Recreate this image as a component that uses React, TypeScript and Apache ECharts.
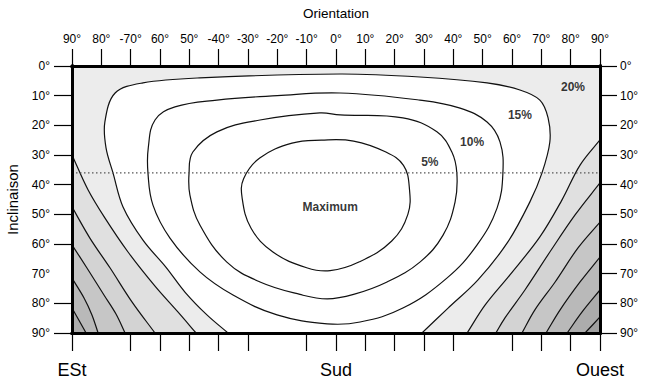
import React, { useEffect, useRef } from "react";
import * as echarts from "echarts";

type Pt = [number, number];

// ---- axis data ----
const orientationTicks = [-90, -80, -70, -60, -50, -40, -30, -20, -10, 0, 10, 20, 30, 40, 50, 60, 70, 80, 90];
const orientationLabels = ["90°", "80°", "-70°", "60°", "50°", "-40°", "-30°", "-20°", "-10°", "0°", "10°", "20°", "30°", "40°", "50°", "60°", "70°", "80°", "90°"];
const bottomTickValues = [-90, -70, -60, -50, -40, -30, -10, 0, 10, 20, 30, 40, 60, 70, 80, 90];
const directionValues = [-90, 0, 90];
const directionLabels = ["ESt", "Sud", "Ouest"];
const inclinationTicks = [0, 10, 20, 30, 40, 50, 60, 70, 80, 90];
const inclinationLabels = ["0°", "10°", "20°", "30°", "40°", "50°", "60°", "70°", "80°", "90°"];
const leftTickValues = [0, 10, 20, 30, 40, 50, 60, 80, 90];
const referenceInclination = 36;

// ---- contour lines (orientation °, inclination °) ----
const contour5: Pt[] = [[-5, 25], [6, 25.3], [17, 29], [23, 33.5], [25, 41], [24.5, 50], [19, 59], [8, 66], [-2, 69], [-10, 68], [-21.5, 62.7], [-29, 54.6], [-32, 44.5], [-31.5, 38], [-26, 31], [-15, 26]];
const contour10: Pt[] = [[-5.5, 15.8], [1.4, 16.5], [22.8, 17.5], [34.4, 22.2], [39.5, 29], [41.2, 36.1], [40.6, 45.8], [36.5, 57], [28.6, 66.1], [17.4, 72.8], [6, 77], [-3, 78.5], [-12.3, 77], [-25.9, 72.8], [-37.2, 66.1], [-46.4, 53.6], [-49.8, 43.5], [-50.1, 36.1], [-48.8, 29], [-40.6, 22.2], [-25.9, 18.2]];
const contour15: Pt[] = [[1.4, 9.1], [28.6, 11.5], [42.3, 14.2], [51.5, 18.9], [55.9, 25.6], [56.9, 36.1], [54.9, 47.9], [48.1, 60.3], [37.8, 71.5], [22.8, 81.6], [8.2, 86.3], [-3, 86.9], [-20.1, 83.9], [-35.1, 77.2], [-46.4, 69.4], [-56.6, 58], [-62.4, 46.9], [-64.1, 36.1], [-64, 27.6], [-61.7, 18.2], [-54.9, 13.8], [-40.6, 11.5], [-20, 10]];
const contour20: Pt[] = [[-36.8, 90], [-44, 83.9], [-51.5, 76.2], [-58, 67.8], [-65.8, 58.7], [-72.6, 47.5], [-76, 36.1], [-78.4, 27.6], [-78.8, 18.9], [-75.3, 9.1], [-65.8, 5.7], [-46.4, 4], [1.4, 2.7], [28.6, 3.7], [51.5, 5.7], [62.7, 8.1], [69.5, 11.5], [72.3, 17.5], [72.9, 25.6], [70.2, 36.1], [66.1, 45.8], [58.6, 59.3], [48.4, 72.1], [38.2, 81.6], [29.3, 90]];

// east (left) corner contours
const contour25East: Pt[] = [[-90, 30], [-84.5, 41.8], [-78.8, 51.2], [-70.9, 62.7], [-61.7, 74.2], [-53.9, 82.9], [-47.7, 90]];
const contour30East: Pt[] = [[-90, 47.5], [-83.9, 58], [-77, 68.1], [-69.5, 79.6], [-61.7, 90]];
const contour35East: Pt[] = [[-90, 60.3], [-84.9, 68.1], [-79.1, 77.2], [-75, 83.6], [-71.9, 90]];
const contour40East: Pt[] = [[-90, 71.5], [-85.9, 78.2], [-83.2, 83.9], [-81.1, 90]];
const contour45East: Pt[] = [[-90, 81.6], [-87.3, 86.3], [-85.2, 90]];

// west (right) corner contours
const contour25West: Pt[] = [[90, 24.9], [83.2, 33.4], [77, 45.2], [69.5, 57.6], [59.3, 70.4], [50.8, 80.6], [44.7, 90]];
const contour30West: Pt[] = [[90, 39.4], [81.5, 50.2], [72.9, 62.7], [64.4, 75.5], [57.6, 84.9], [54.5, 90]];
const contour35West: Pt[] = [[90, 52.6], [82.5, 61.3], [74.7, 72.8], [67.8, 82.2], [63.4, 90]];
const contour40West: Pt[] = [[90, 64.4], [83.2, 72.8], [76.4, 82.2], [71.6, 90]];
const contour45West: Pt[] = [[90, 75.5], [83.9, 82.9], [78.8, 90]];
const contour50West: Pt[] = [[90, 84.6], [84.9, 90]];

// ---- labels ----
const contourLabelNames = ["Maximum", "5%", "10%", "15%", "20%"];
const contourLabelAnchors: Pt[] = [[-2, 47.5], [32, 32.4], [46.4, 25.6], [62.7, 16.5], [80.8, 7.1]];

const FONT = "'Liberation Sans', Arial, Helvetica, sans-serif";

// extend an end point outward along its last segment (drawn outside the plot, clipped away)
function extend(p: Pt, q: Pt, len: number): Pt {
  const dx = p[0] - q[0];
  const dy = p[1] - q[1];
  const d = Math.hypot(dx, dy) || 1;
  return [p[0] + (dx / d) * len, p[1] + (dy / d) * len];
}
function belowPolygon(curve: Pt[]): Pt[] {
  const n = curve.length;
  const e0 = extend(curve[0], curve[1], 20);
  const e1 = extend(curve[n - 1], curve[n - 2], 20);
  return [e0, ...curve, e1];
}
function cornerPolygon(curve: Pt[]): Pt[] {
  const n = curve.length;
  const e0 = extend(curve[0], curve[1], 20);
  const e1 = extend(curve[n - 1], curve[n - 2], 20);
  const side = curve[0][0] < 0 ? -135 : 135;
  return [e0, ...curve, e1, [side, 135]];
}

const fillRegions = [
  { points: belowPolygon(contour20), fill: "#ffffff" },
  { points: cornerPolygon(contour25East), fill: "#e0e0e0" },
  { points: cornerPolygon(contour30East), fill: "#d3d3d3" },
  { points: cornerPolygon(contour35East), fill: "#c6c6c6" },
  { points: cornerPolygon(contour40East), fill: "#b9b9b9" },
  { points: cornerPolygon(contour45East), fill: "#acacac" },
  { points: cornerPolygon(contour25West), fill: "#e0e0e0" },
  { points: cornerPolygon(contour30West), fill: "#d3d3d3" },
  { points: cornerPolygon(contour35West), fill: "#c6c6c6" },
  { points: cornerPolygon(contour40West), fill: "#b9b9b9" },
  { points: cornerPolygon(contour45West), fill: "#acacac" },
  { points: cornerPolygon(contour50West), fill: "#a0a0a0" },
];
const closedContours = [contour15, contour10, contour5];

export default function App() {
  const ref = useRef<HTMLDivElement>(null);

  useEffect(() => {
    if (!ref.current) return;
    const chart = echarts.init(ref.current, null, { renderer: "svg" });

    const axisLine = { show: true, onZero: false, lineStyle: { color: "#000", width: 3, cap: "square" } };
    const tickStyle = { color: "#000", width: 1.2 };
    const labelBase = { color: "#000", fontFamily: FONT, fontSize: 12 };

    const option: any = {
      animation: false,
      textStyle: { fontFamily: FONT, color: "#000" },
      grid: {
        left: 72, right: 50, top: 66, bottom: 51,
        outerBoundsMode: "none", containLabel: false,
        show: true, backgroundColor: "#ececec", borderWidth: 0,
      },
      xAxis: [
        {
          type: "value", position: "bottom", min: -90, max: 90, interval: 10, z: 10,
          axisLine,
          axisTick: { show: true, length: 18, customValues: bottomTickValues, lineStyle: tickStyle },
          axisLabel: {
            ...labelBase, fontSize: 18, margin: 28, customValues: directionValues, hideOverlap: false,
            formatter: (v: number) => {
              const i = directionValues.indexOf(Math.round(v));
              return i >= 0 ? directionLabels[i] : "";
            },
          },
          splitLine: { show: false },
        },
        {
          type: "value", position: "top", min: -90, max: 90, interval: 10, z: 10,
          axisLine,
          axisTick: { show: true, length: 17, lineStyle: tickStyle },
          axisLabel: {
            ...labelBase, margin: 21,
            formatter: (v: number) => {
              const i = orientationTicks.indexOf(Math.round(v));
              return i >= 0 ? orientationLabels[i] : "";
            },
          },
          splitLine: { show: false },
          name: "Orientation", nameLocation: "middle", nameGap: 46,
          nameTextStyle: { ...labelBase, fontSize: 13.5 },
        },
      ],
      yAxis: [
        {
          type: "value", position: "left", inverse: true, min: 0, max: 90, interval: 10, z: 10,
          axisLine,
          axisTick: { show: true, length: 18, customValues: leftTickValues, lineStyle: tickStyle },
          axisLabel: {
            ...labelBase, margin: 22,
            formatter: (v: number) => {
              const i = inclinationTicks.indexOf(Math.round(v));
              return i >= 0 ? inclinationLabels[i] : "";
            },
          },
          splitLine: { show: false },
          name: "Inclinaison", nameLocation: "middle", nameGap: 52,
          nameTextStyle: { ...labelBase, fontSize: 15 },
        },
        {
          type: "value", position: "right", inverse: true, min: 0, max: 90, interval: 10, z: 10,
          axisLine,
          axisTick: { show: true, length: 17, lineStyle: tickStyle },
          axisLabel: {
            ...labelBase, margin: 20,
            formatter: (v: number) => {
              const i = inclinationTicks.indexOf(Math.round(v));
              return i >= 0 ? inclinationLabels[i] : "";
            },
          },
          splitLine: { show: false },
        },
      ],
      series: [
        {
          type: "custom",
          name: "fills",
          xAxisIndex: 0,
          yAxisIndex: 0,
          clip: true,
          z: 2,
          data: fillRegions.map((_, i) => [0, i]),
          renderItem: (params: any, api: any) => {
            const region = fillRegions[params.dataIndex];
            const pts = region.points.map((p) => api.coord(p));
            return {
              type: "polygon",
              shape: { points: pts, smooth: 0.35 },
              style: { fill: region.fill, stroke: "#111", lineWidth: 1.2 },
            };
          },
        },
        {
          type: "custom",
          name: "closed",
          xAxisIndex: 0,
          yAxisIndex: 0,
          clip: true,
          z: 3,
          data: closedContours.map((_, i) => [0, i]),
          renderItem: (params: any, api: any) => {
            const curve = closedContours[params.dataIndex];
            const pts = curve.map((p) => api.coord(p));
            return {
              type: "polygon",
              shape: { points: pts, smooth: 0.4 },
              style: { fill: "none", stroke: "#111", lineWidth: 1.2 },
            };
          },
        },
        {
          type: "line",
          name: "reference",
          xAxisIndex: 0,
          yAxisIndex: 0,
          z: 4,
          symbol: "none",
          silent: true,
          data: [[-90, referenceInclination], [90, referenceInclination]],
          lineStyle: { color: "#555", width: 1.2, type: [1.5, 2.5] },
        },
        {
          type: "scatter",
          name: "labels",
          xAxisIndex: 0,
          yAxisIndex: 0,
          z: 5,
          symbolSize: 0,
          silent: true,
          data: contourLabelNames.map((n, i) => ({ name: n, value: contourLabelAnchors[i] })),
          label: {
            show: true,
            position: "inside",
            formatter: "{b}",
            color: "#000",
            fontFamily: FONT,
            fontWeight: "bold",
            fontSize: 12,
          },
        },
      ],
    };

    chart.setOption(option);
    return () => chart.dispose();
  }, []);

  return (
    <div
      ref={ref}
      style={{ position: "absolute", left: 0, top: 0, width: 650, height: 384, background: "#fff" }}
    />
  );
}
